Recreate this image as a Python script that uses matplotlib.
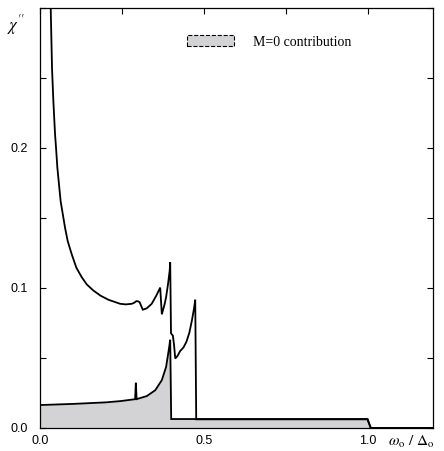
import matplotlib
matplotlib.use("Agg")
import matplotlib.pyplot as plt
from matplotlib.patches import Patch
from matplotlib.ticker import MultipleLocator, FixedLocator

# total chi'' curve
total_x = [0.031, 0.0327, 0.0367, 0.0408, 0.0459, 0.049, 0.053, 0.063, 0.0765, 0.0846, 0.097,
           0.111, 0.1275, 0.143, 0.163, 0.185, 0.209, 0.245, 0.262, 0.280, 0.288, 0.294, 0.299,
           0.304, 0.314, 0.326, 0.341, 0.355, 0.367, 0.372, 0.380, 0.385, 0.391, 0.396,
           0.3976, 0.400, 0.4056, 0.409, 0.413, 0.420, 0.428, 0.438, 0.447, 0.456, 0.464,
           0.470, 0.474, 0.477, 1.0, 1.01, 1.2]
total_y = [0.330, 0.300, 0.257, 0.2335, 0.210, 0.200, 0.186, 0.162, 0.143, 0.1335, 0.124,
           0.1145, 0.1077, 0.1025, 0.0982, 0.0945, 0.0916, 0.0887, 0.0883, 0.0887, 0.0895, 0.0906, 0.0905,
           0.0899, 0.0845, 0.0855, 0.0887, 0.0945, 0.1003, 0.0812, 0.0880, 0.0934, 0.1030, 0.1125,
           0.1184, 0.0676, 0.0660, 0.0600, 0.0496, 0.0515, 0.0550, 0.0575, 0.0615, 0.0680, 0.0770,
           0.0850, 0.0916, 0.0062, 0.0062, 0.0, 0.0]

# M=0 contribution
m0_x = [0.0, 0.1, 0.2, 0.245, 0.285, 0.2905, 0.2926, 0.295, 0.2976, 0.326,
        0.352, 0.372, 0.385, 0.393, 0.3976, 0.4006, 1.0, 1.01, 1.2]
m0_y = [0.0164, 0.0172, 0.0183, 0.0192, 0.0204, 0.0206, 0.0323, 0.0206, 0.0208, 0.0228,
        0.0270, 0.0342, 0.0436, 0.0555, 0.0630, 0.0064, 0.0064, 0.0, 0.0]

xtick_vals = [0.0, 0.5, 1.0]
xtick_labels = ["0.0", "0.5", "1.0"]
ytick_vals = [0.0, 0.1, 0.2]
ytick_labels = ["0.0", "0.1", "0.2"]

plt.rcParams["mathtext.fontset"] = "stix"

fig = plt.figure(figsize=(4.44, 4.51), dpi=100)
ax = fig.add_axes([40/444, 23/451, 393/444, 420/451])

ax.fill_between(m0_x, m0_y, 0, color="#d3d3d5", linewidth=0)
ax.plot(m0_x, m0_y, color="black", lw=1.3, solid_joinstyle="miter")
ax.plot(total_x, total_y, color="black", lw=1.3, solid_joinstyle="miter")

ax.set_xlim(0, 1.2)
ax.set_ylim(0, 0.3)

ax.xaxis.set_major_locator(FixedLocator(xtick_vals))
ax.set_xticklabels(xtick_labels)
ax.xaxis.set_minor_locator(MultipleLocator(0.25))
ax.yaxis.set_major_locator(FixedLocator(ytick_vals))
ax.set_yticklabels(ytick_labels)
ax.yaxis.set_minor_locator(MultipleLocator(0.05))

ax.tick_params(axis="x", which="both", direction="in", bottom=False, top=True,
               length=4, width=0.8, pad=5, labelsize=9)
ax.tick_params(axis="y", which="both", direction="in", left=True, right=True,
               length=4, width=0.8, pad=9, labelsize=9)
for lab in ax.get_xticklabels() + ax.get_yticklabels():
    lab.set_family("Liberation Sans")
for s in ax.spines.values():
    s.set_linewidth(0.9)

fig.text(7/444, 1 - 30/451, r"$\chi^{\prime\prime}$", fontsize=12, ha="left", va="baseline")
fig.text(388/444, 1 - 446/451, r"$\omega_{\rm o}\ /\ \Delta_{\rm o}$", fontsize=11,
         ha="left", va="baseline")

handle = Patch(facecolor="#d3d3d5", edgecolor="black", linestyle="--", linewidth=0.8)
leg = ax.legend([handle], ["M=0 contribution"], loc="upper left",
                bbox_to_anchor=(0.374, 0.935), frameon=False,
                prop={"family": "Liberation Serif", "size": 10},
                handlelength=3.4, handleheight=0.85, handletextpad=1.35,
                borderpad=0, borderaxespad=0)

fig.savefig("out.png", dpi=100)
